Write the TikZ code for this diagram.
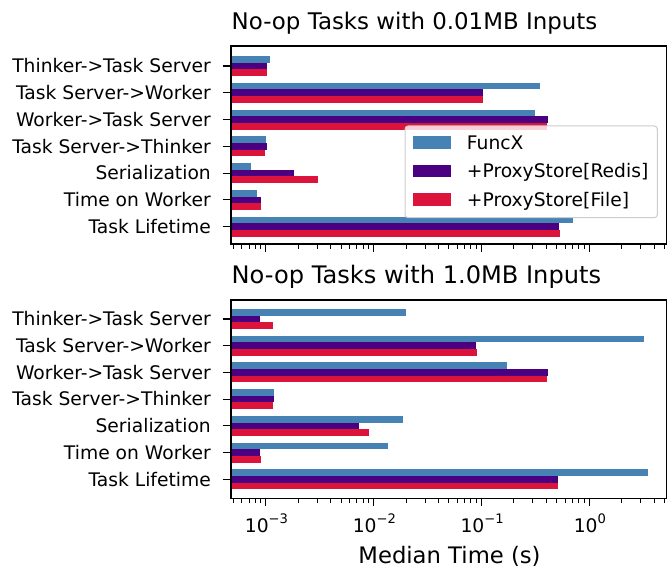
\documentclass[tikz,border=0pt]{standalone}
\usepackage{fontspec}
\setmainfont{DejaVu Sans}
\definecolor{cfx}{HTML}{4682B4}
\definecolor{crd}{HTML}{4B0082}
\definecolor{cfl}{HTML}{DC143C}
\newcommand{\ticklab}{\fontsize{18.7}{22}\selectfont}
\newcommand{\titlefntA}{\fontsize{22.9}{28}\selectfont}
\newcommand{\titlefntB}{\fontsize{24.1}{29}\selectfont}
\newcommand{\labfnt}{\fontsize{22.7}{27}\selectfont}
\newcommand{\pw}[1]{10\raisebox{0.45em}{\fontsize{13.1}{15}\selectfont #1}}
\tikzset{
  axframe/.style={line width=1.2pt, draw=black},
  tickmaj/.style={line width=1.1pt, draw=black},
  tickmin/.style={line width=0.8pt, draw=black},
  lbl/.style={inner sep=0pt, font=\ticklab},
  legbox/.style={draw=black!20, fill=white, fill opacity=0.8, rounded corners=3pt, line width=1pt},
}
\begin{document}
\begin{tikzpicture}[x=1pt,y=-1pt]
\useasboundingbox (0,0) rectangle (668,569);
% ---------- top panel bars ----------
\foreach \i/\b/\p/\r in {0/270/267/267, 1/540.3/483.3/483.3, 2/535.3/548.3/547, 3/265.7/267.3/265, 4/250.7/294/318, 5/257.3/260.7/260.7, 6/572.7/558.7/559.7}{
  \pgfmathsetmacro\yc{66+\i*26.78}
  \fill[cfx] (231,{\yc-10}) rectangle (\b,{\yc-3.33});
  \fill[crd] (231,{\yc-3.33}) rectangle (\p,{\yc+3.33});
  \fill[cfl] (231,{\yc+3.33}) rectangle (\r,{\yc+10});
}
% ---------- bottom panel bars ----------
\foreach \i/\b/\p/\r in {0/406/260.3/273.3, 1/644.3/476/477.3, 2/506.7/548.3/547, 3/273.7/273.7/272.7, 4/403/358.7/369.3, 5/388.3/260.3/261, 6/648/558/558}{
  \pgfmathsetmacro\yc{319+\i*26.72}
  \fill[cfx] (231,{\yc-10}) rectangle (\b,{\yc-3.33});
  \fill[crd] (231,{\yc-3.33}) rectangle (\p,{\yc+3.33});
  \fill[cfl] (231,{\yc+3.33}) rectangle (\r,{\yc+10});
}
% ---------- y tick labels ----------
\foreach \i/\t in {0/Thinker->Task Server, 1/Task Server->Worker, 2/Worker->Task Server, 3/Task Server->Thinker, 4/Serialization, 5/Time on Worker, 6/Task Lifetime}{
  \pgfmathsetmacro\ya{66+\i*26.78}
  \pgfmathsetmacro\yb{319+\i*26.72}
  \draw[tickmaj] (222.5,\ya) -- (231,\ya);
  \draw[tickmaj] (222.5,\yb) -- (231,\yb);
  \node[lbl, anchor=base east] (ta\i) at (211,{\ya+6.8}) {\t};
  \node[lbl, anchor=base east] (tb\i) at (211,{\yb+6.8}) {\t};
}
% ---------- x ticks ----------
\foreach \yb in {244,498.3}{
  \foreach \k in {0,...,3}{
    \draw[tickmaj] ({265.7+\k*107.8},\yb) -- ({265.7+\k*107.8},{\yb+7.5});
  }
  \foreach \d in {-4,...,0}{
    \foreach \m in {2,...,9}{
      \pgfmathsetmacro\xx{265.7+(\d+3)*107.8+107.8*ln(\m)/ln(10)}
      \pgfmathparse{and(\xx>231,\xx<666.7)?1:0}
      \ifnum\pgfmathresult=1
        \draw[tickmin] (\xx,\yb) -- (\xx,{\yb+4.5});
      \fi
    }
  }
}
% ---------- x tick labels ----------
\node[lbl, anchor=base] (x3) at (266.5,532) {\pw{−3}};
\node[lbl, anchor=base] (x2) at (374.3,532) {\pw{−2}};
\node[lbl, anchor=base] (x1) at (482.1,532) {\pw{−1}};
\node[lbl, anchor=base] (x0) at (589.9,532) {\pw{0}};
\node[inner sep=0pt, font=\labfnt, anchor=base] (xlab) at (449.5,563.5) {Median Time (s)};
% ---------- titles ----------
\node[inner sep=0pt, font=\titlefntA, anchor=base west] (t1) at (231.5,29.5) {No-op Tasks with 0.01MB Inputs};
\node[inner sep=0pt, font=\titlefntB, anchor=base west] (t2) at (231.5,283.3) {No-op Tasks with 1.0MB Inputs};
% ---------- legend ----------
\draw[legbox] (405,126) rectangle (657.3,217.7);
\fill[cfx] (413.3,136) rectangle (450.7,148.7);
\fill[crd] (413.3,164.8) rectangle (450.7,177.5);
\fill[cfl] (413.3,193.3) rectangle (450.7,206);
\node[lbl, anchor=base west] (l1) at (466.7,149.1) {FuncX};
\node[lbl, anchor=base west] (l2) at (466.7,177.9) {+ProxyStore[Redis]};
\node[lbl, anchor=base west] (l3) at (466.7,206.4) {+ProxyStore[File]};
% ---------- frames ----------
\draw[axframe] (231,46) rectangle (666.7,244);
\draw[axframe] (231,300) rectangle (666.7,498.3);
\end{tikzpicture}
\end{document}
